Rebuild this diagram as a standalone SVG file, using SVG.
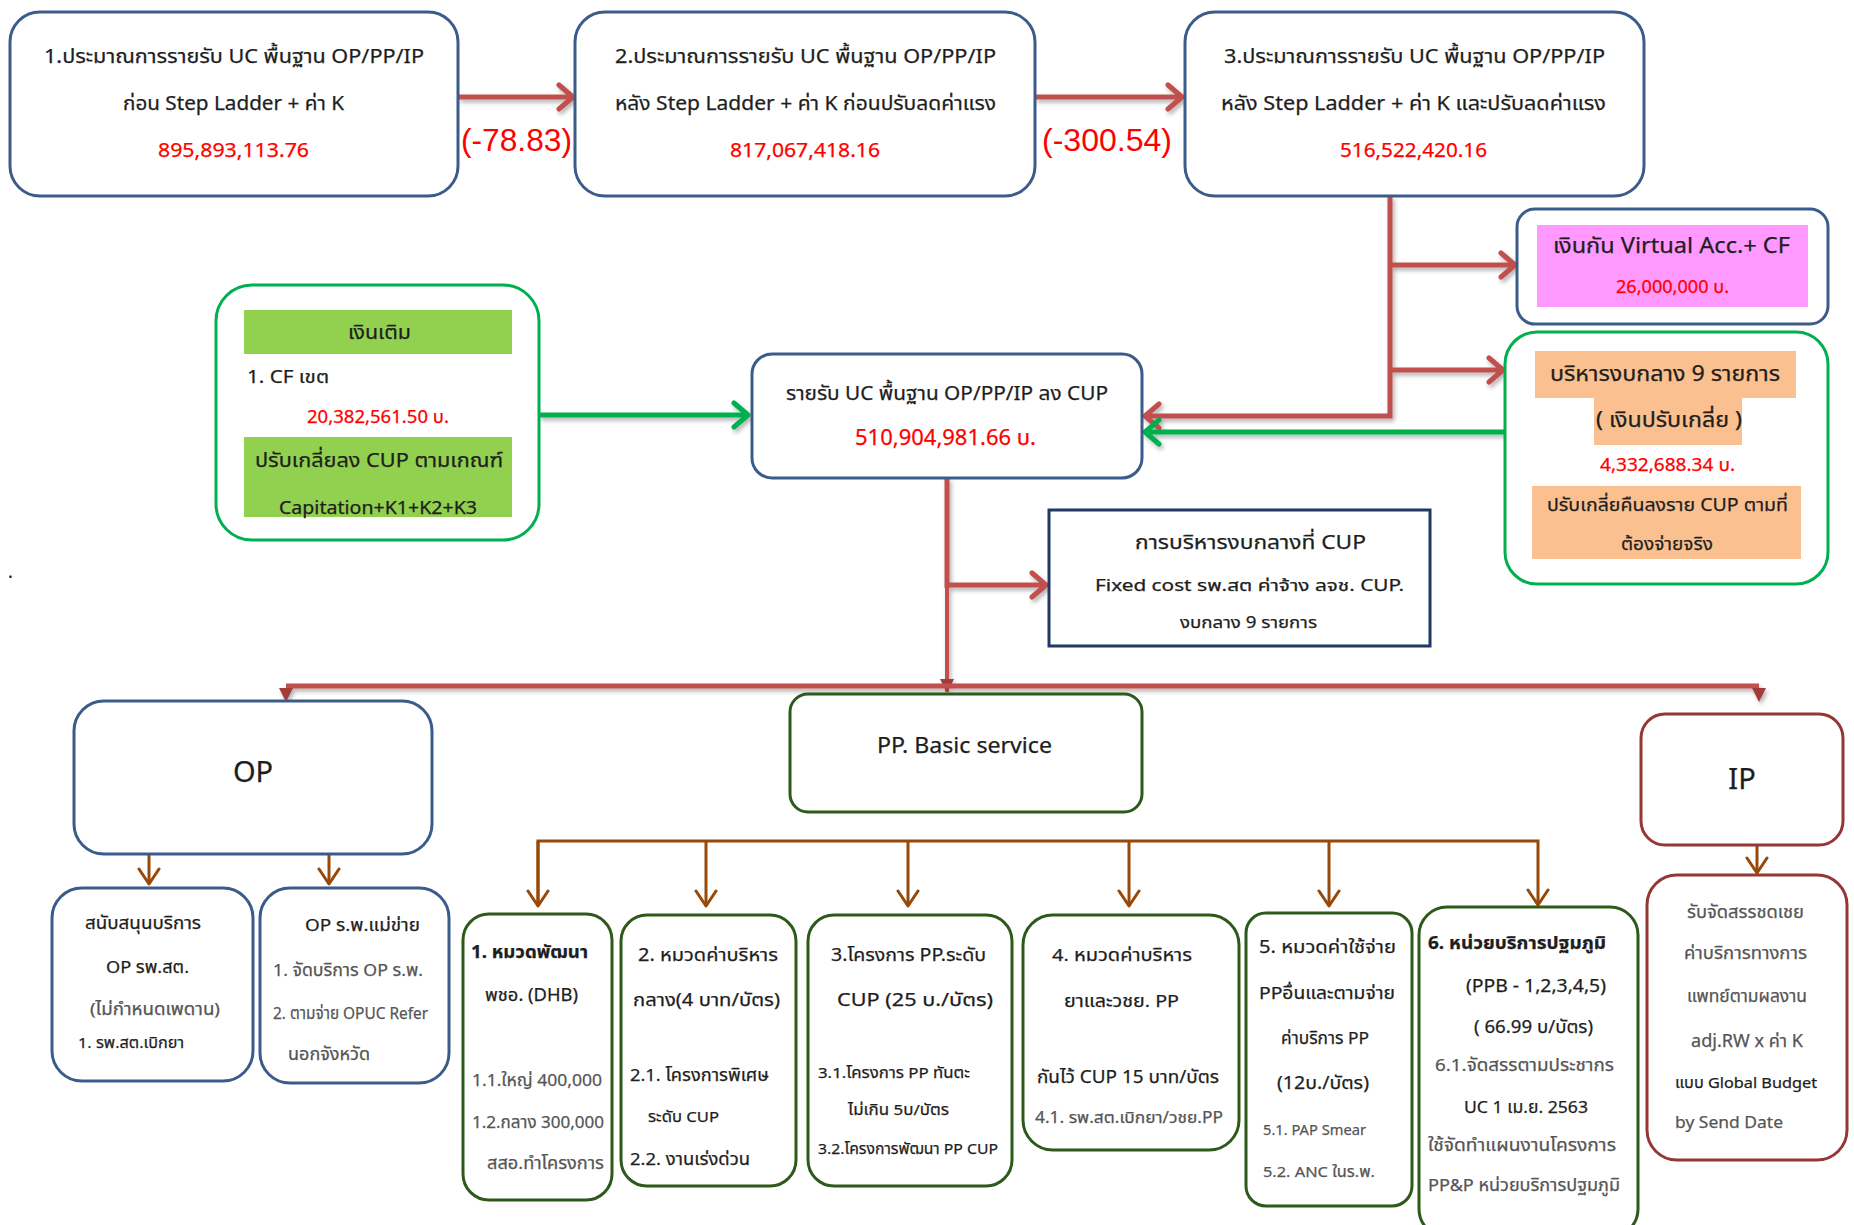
<svg xmlns="http://www.w3.org/2000/svg" width="1854" height="1225" viewBox="0 0 1854 1225">
<defs>
<style>
.t{font-family:"Noto Sans","Noto Sans Thai","DejaVu Sans",sans-serif;fill:#1E1E1E;stroke:#1E1E1E;stroke-width:0.25}
.a{font-family:"Liberation Sans",Arial,sans-serif;fill:#FF0000}
.r{fill:#FF0000;stroke:#FF0000}
.g{fill:#555555;stroke:#555555}
.b{font-weight:bold}
.navy{fill:#fff;stroke:#3B5C8A;stroke-width:3}
.grn{fill:#fff;stroke:#00B050;stroke-width:3}
.dg{fill:#fff;stroke:#2D5A1B;stroke-width:3}
.dr{fill:#fff;stroke:#953735;stroke-width:3}
.redl{fill:none;stroke:#C0504D;stroke-width:5}
.grnl{fill:none;stroke:#00B050;stroke-width:5}
.brl{fill:none;stroke:#984807;stroke-width:3}
</style>
<filter id="sh" x="-5%" y="-5%" width="110%" height="110%">
<feDropShadow dx="2" dy="3" stdDeviation="2" flood-color="#000" flood-opacity="0.3"/>
</filter>
<marker id="mr" viewBox="0 0 20 30" markerWidth="20" markerHeight="30" refX="17" refY="15" orient="auto" markerUnits="userSpaceOnUse">
<path d="M3,3 L17,15 L3,27" fill="none" stroke="#C0504D" stroke-width="5" stroke-linecap="round" stroke-linejoin="round"/>
</marker>
<marker id="mg" viewBox="0 0 20 30" markerWidth="20" markerHeight="30" refX="17" refY="15" orient="auto" markerUnits="userSpaceOnUse">
<path d="M3,3 L17,15 L3,27" fill="none" stroke="#00B050" stroke-width="5" stroke-linecap="round" stroke-linejoin="round"/>
</marker>
<marker id="mb" viewBox="0 0 20 24" markerWidth="20" markerHeight="24" refX="18" refY="12" orient="auto" markerUnits="userSpaceOnUse">
<path d="M3,2 L18,12 L3,22" fill="none" stroke="#984807" stroke-width="3" stroke-linecap="round" stroke-linejoin="round"/>
</marker>
<marker id="mt" viewBox="0 0 14 14" markerWidth="14" markerHeight="14" refX="13" refY="7" orient="auto" markerUnits="userSpaceOnUse">
<path d="M0,0 L14,7 L0,14 Z" fill="#A33A38"/>
</marker>
<radialGradient id="glow" cx="0.5" cy="1" r="0.6">
<stop offset="0" stop-color="#FFF59A" stop-opacity="0.8"/>
<stop offset="1" stop-color="#FFF59A" stop-opacity="0"/>
</radialGradient>
</defs>
<rect width="1854" height="1225" fill="#fff"/>
<ellipse cx="1510" cy="1225" rx="140" ry="18" fill="url(#glow)"/>

<g id="connectors">
<g filter="url(#sh)">
<path class="redl" d="M458,97 H573" marker-end="url(#mr)"/>
<path class="redl" d="M1035,97 H1182" marker-end="url(#mr)"/>
<path class="redl" d="M1390,196 V416 H1145" marker-end="url(#mr)"/>
<path class="redl" d="M1390,265 H1515" marker-end="url(#mr)"/>
<path class="redl" d="M1390,370 H1503" marker-end="url(#mr)"/>
<path class="grnl" d="M1505,432 H1145" marker-end="url(#mg)"/>
<path class="grnl" d="M539,415 H748" marker-end="url(#mg)"/>
<path class="redl" d="M947,478 V588" />
<path class="redl" d="M947,585 H1046" marker-end="url(#mr)"/>
<path fill="none" stroke="#C0504D" stroke-width="4" d="M947,585 V692" marker-end="url(#mt)"/>
<path class="redl" d="M286,686 H1759"/>
<path d="M279,688 L293,688 L286,702 Z" fill="#A33A38"/>
<path d="M1752,688 L1766,688 L1759,702 Z" fill="#A33A38"/>
</g>
<path class="brl" d="M149,855 V884" marker-end="url(#mb)"/>
<path class="brl" d="M329,855 V884" marker-end="url(#mb)"/>
<path class="brl" d="M538,905 V841 H1538 V905" marker-end="url(#mb)"/>
<path class="brl" d="M538,841 V906" marker-end="url(#mb)"/>
<path class="brl" d="M706,841 V906" marker-end="url(#mb)"/>
<path class="brl" d="M908,841 V906" marker-end="url(#mb)"/>
<path class="brl" d="M1129,841 V906" marker-end="url(#mb)"/>
<path class="brl" d="M1329,841 V906" marker-end="url(#mb)"/>
<path class="brl" d="M1757,846 V873" marker-end="url(#mb)"/>
</g>

<g id="box1">
<rect class="navy" x="10" y="12" width="448" height="184" rx="30"/>
<text class="t" x="44" y="63" font-size="20" textLength="380" lengthAdjust="spacingAndGlyphs">1.ประมาณการรายรับ  UC พื้นฐาน OP/PP/IP</text>
<text class="t" x="123" y="110" font-size="20" textLength="221" lengthAdjust="spacingAndGlyphs">ก่อน Step Ladder + ค่า K</text>
<text class="t r" x="158" y="157" font-size="20" textLength="151" lengthAdjust="spacingAndGlyphs">895,893,113.76</text>
</g>
<text class="a" x="461" y="151" font-size="31" textLength="111" lengthAdjust="spacingAndGlyphs">(-78.83)</text>

<g id="box2">
<rect class="navy" x="575" y="12" width="460" height="184" rx="30"/>
<text class="t" x="615" y="63" font-size="20" textLength="381" lengthAdjust="spacingAndGlyphs">2.ประมาณการรายรับ  UC พื้นฐาน OP/PP/IP</text>
<text class="t" x="615" y="110" font-size="20" textLength="381" lengthAdjust="spacingAndGlyphs">หลัง Step Ladder + ค่า K ก่อนปรับลดค่าแรง</text>
<text class="t r" x="730" y="157" font-size="20" textLength="150" lengthAdjust="spacingAndGlyphs">817,067,418.16</text>
</g>
<text class="a" x="1042" y="151" font-size="32" textLength="130" lengthAdjust="spacingAndGlyphs">(-300.54)</text>

<g id="box3">
<rect class="navy" x="1185" y="12" width="459" height="184" rx="30"/>
<text class="t" x="1224" y="63" font-size="20" textLength="381" lengthAdjust="spacingAndGlyphs">3.ประมาณการรายรับ  UC พื้นฐาน OP/PP/IP</text>
<text class="t" x="1221" y="110" font-size="20" textLength="385" lengthAdjust="spacingAndGlyphs">หลัง  Step Ladder + ค่า K  และปรับลดค่าแรง</text>
<text class="t r" x="1340" y="157" font-size="20" textLength="147" lengthAdjust="spacingAndGlyphs">516,522,420.16</text>
</g>

<g id="virtual">
<rect class="navy" x="1517" y="209" width="311" height="115" rx="18"/>
<rect x="1537" y="225" width="271" height="82" fill="#FF99FF"/>
<text class="t" x="1553" y="253" font-size="22" textLength="237" lengthAdjust="spacingAndGlyphs">เงินกัน Virtual Acc.+ CF</text>
<text class="t r" x="1616" y="293" font-size="18" textLength="113" lengthAdjust="spacingAndGlyphs">26,000,000 บ.</text>
</g>

<g id="central9">
<rect class="grn" x="1505" y="332" width="323" height="252" rx="32"/>
<rect x="1535" y="351" width="261" height="47" fill="#FAC090"/>
<rect x="1594" y="398" width="148" height="47" fill="#FAC090"/>
<text class="t" x="1550" y="381" font-size="21" textLength="230" lengthAdjust="spacingAndGlyphs">บริหารงบกลาง   9 รายการ</text>
<text class="t" x="1596" y="427" font-size="21" textLength="146" lengthAdjust="spacingAndGlyphs">( เงินปรับเกลี่ย )</text>
<text class="t r" x="1600" y="471" font-size="18" textLength="135" lengthAdjust="spacingAndGlyphs">4,332,688.34  บ.</text>
<rect x="1532" y="486" width="269" height="73" fill="#FAC090"/>
<text class="t" x="1547" y="511" font-size="18" textLength="241" lengthAdjust="spacingAndGlyphs">ปรับเกลี่ยคืนลงราย CUP ตามที่</text>
<text class="t" x="1621" y="550" font-size="18" textLength="92" lengthAdjust="spacingAndGlyphs">ต้องจ่ายจริง</text>
</g>

<g id="topup">
<rect class="grn" x="216" y="285" width="323" height="255" rx="36"/>
<rect x="244" y="310" width="268" height="44" fill="#92D050"/>
<text class="t" x="348" y="339" font-size="20" textLength="63" lengthAdjust="spacingAndGlyphs">เงินเติม</text>
<text class="t" x="247" y="383" font-size="18" textLength="82" lengthAdjust="spacingAndGlyphs">1. CF เขต</text>
<text class="t r" x="307" y="423" font-size="18" textLength="142" lengthAdjust="spacingAndGlyphs">20,382,561.50 บ.</text>
<rect x="244" y="437" width="268" height="80" fill="#92D050"/>
<text class="t" x="255" y="467" font-size="20" textLength="248" lengthAdjust="spacingAndGlyphs">ปรับเกลี่ยลง  CUP ตามเกณฑ์</text>
<text class="t" x="279" y="514" font-size="18" textLength="198" lengthAdjust="spacingAndGlyphs">Capitation+K1+K2+K3</text>
</g>

<g id="income">
<rect class="navy" x="752" y="354" width="390" height="124" rx="20"/>
<text class="t" x="786" y="400" font-size="20" textLength="322" lengthAdjust="spacingAndGlyphs">รายรับ  UC พื้นฐาน OP/PP/IP ลง CUP</text>
<text class="t r" x="855" y="445" font-size="22" textLength="181" lengthAdjust="spacingAndGlyphs">510,904,981.66  บ.</text>
</g>

<g id="cupadmin">
<rect x="1049" y="510" width="381" height="136" fill="#fff" stroke="#1F3864" stroke-width="3"/>
<text class="t" x="1135" y="549" font-size="20" textLength="231" lengthAdjust="spacingAndGlyphs">การบริหารงบกลางที่  CUP</text>
<text class="t" x="1095" y="591" font-size="16" textLength="309" lengthAdjust="spacingAndGlyphs">Fixed cost รพ.สต      ค่าจ้าง  ลจช. CUP.</text>
<text class="t" x="1180" y="628" font-size="16" textLength="137" lengthAdjust="spacingAndGlyphs">งบกลาง 9 รายการ</text>
</g>

<g id="op">
<rect class="navy" x="74" y="701" width="358" height="153" rx="30"/>
<text class="t" x="253" y="782" font-size="29" text-anchor="middle">OP</text>
</g>
<g id="pp">
<rect class="dg" x="790" y="694" width="352" height="118" rx="18"/>
<text class="t" x="877" y="753" font-size="22" textLength="175" lengthAdjust="spacingAndGlyphs">PP. Basic service</text>
</g>
<g id="ip">
<rect class="dr" x="1641" y="714" width="202" height="131" rx="24"/>
<text class="t" x="1742" y="789" font-size="29" text-anchor="middle">IP</text>
</g>

<g id="op1">
<rect class="navy" x="52" y="888" width="201" height="193" rx="30"/>
<text class="t" x="85" y="929" font-size="17" textLength="116" lengthAdjust="spacingAndGlyphs">สนับสนุนบริการ</text>
<text class="t" x="106" y="973" font-size="17" textLength="83" lengthAdjust="spacingAndGlyphs">OP รพ.สต.</text>
<text class="t g" x="90" y="1015" font-size="17" textLength="130" lengthAdjust="spacingAndGlyphs">(ไม่กำหนดเพดาน)</text>
<text class="t" x="78" y="1048" font-size="15" textLength="106" lengthAdjust="spacingAndGlyphs">1. รพ.สต.เบิกยา</text>
</g>
<g id="op2">
<rect class="navy" x="260" y="888" width="189" height="195" rx="30"/>
<text class="t" x="305" y="931" font-size="17" textLength="115" lengthAdjust="spacingAndGlyphs">OP ร.พ.แม่ข่าย</text>
<text class="t g" x="273" y="976" font-size="17" textLength="150" lengthAdjust="spacingAndGlyphs">1. จัดบริการ OP ร.พ.</text>
<text class="t g" x="273" y="1019" font-size="17" textLength="155" lengthAdjust="spacingAndGlyphs">2. ตามจ่าย OPUC Refer</text>
<text class="t g" x="288" y="1060" font-size="17" textLength="82" lengthAdjust="spacingAndGlyphs">นอกจังหวัด</text>
</g>

<g id="pp1">
<rect class="dg" x="463" y="914" width="149" height="286" rx="26"/>
<text class="t b" x="471" y="958" font-size="18" textLength="117" lengthAdjust="spacingAndGlyphs">1. หมวดพัฒนา</text>
<text class="t" x="485" y="1001" font-size="18" textLength="93" lengthAdjust="spacingAndGlyphs">พชอ. (DHB)</text>
<text class="t g" x="472" y="1086" font-size="17" textLength="130" lengthAdjust="spacingAndGlyphs">1.1.ใหญ่ 400,000</text>
<text class="t g" x="472" y="1128" font-size="17" textLength="132" lengthAdjust="spacingAndGlyphs">1.2.กลาง 300,000</text>
<text class="t g" x="487" y="1169" font-size="17" textLength="117" lengthAdjust="spacingAndGlyphs">สสอ.ทำโครงการ</text>
</g>
<g id="pp2">
<rect class="dg" x="621" y="915" width="175" height="271" rx="26"/>
<text class="t" x="638" y="961" font-size="18" textLength="140" lengthAdjust="spacingAndGlyphs">2. หมวดค่าบริหาร</text>
<text class="t" x="633" y="1006" font-size="18" textLength="147" lengthAdjust="spacingAndGlyphs">กลาง(4 บาท/บัตร)</text>
<text class="t" x="630" y="1081" font-size="17" textLength="139" lengthAdjust="spacingAndGlyphs">2.1. โครงการพิเศษ</text>
<text class="t" x="648" y="1122" font-size="15" textLength="71" lengthAdjust="spacingAndGlyphs">ระดับ CUP</text>
<text class="t" x="630" y="1165" font-size="17" textLength="120" lengthAdjust="spacingAndGlyphs">2.2. งานเร่งด่วน</text>
</g>
<g id="pp3">
<rect class="dg" x="808" y="915" width="204" height="271" rx="26"/>
<text class="t" x="831" y="961" font-size="18" textLength="155" lengthAdjust="spacingAndGlyphs">3.โครงการ PP.ระดับ</text>
<text class="t" x="837" y="1006" font-size="18" textLength="156" lengthAdjust="spacingAndGlyphs">CUP (25 บ./บัตร)</text>
<text class="t" x="818" y="1078" font-size="15" textLength="152" lengthAdjust="spacingAndGlyphs">3.1.โครงการ PP ทันตะ</text>
<text class="t" x="848" y="1115" font-size="15" textLength="101" lengthAdjust="spacingAndGlyphs">ไม่เกิน 5บ/บัตร</text>
<text class="t" x="818" y="1154" font-size="15" textLength="180" lengthAdjust="spacingAndGlyphs">3.2.โครงการพัฒนา PP CUP</text>
</g>
<g id="pp4">
<rect class="dg" x="1023" y="915" width="216" height="235" rx="30"/>
<text class="t" x="1052" y="961" font-size="17" textLength="140" lengthAdjust="spacingAndGlyphs">4. หมวดค่าบริหาร</text>
<text class="t" x="1064" y="1007" font-size="17" textLength="115" lengthAdjust="spacingAndGlyphs">ยาและวชย. PP</text>
<text class="t" x="1037" y="1083" font-size="18" textLength="182" lengthAdjust="spacingAndGlyphs">กันไว้ CUP 15 บาท/บัตร</text>
<text class="t g" x="1035" y="1123" font-size="16" textLength="188" lengthAdjust="spacingAndGlyphs">4.1. รพ.สต.เบิกยา/วชย.PP</text>
</g>
<g id="pp5">
<rect class="dg" x="1246" y="913" width="166" height="293" rx="20"/>
<text class="t" x="1259" y="953" font-size="18" textLength="137" lengthAdjust="spacingAndGlyphs">5. หมวดค่าใช้จ่าย</text>
<text class="t" x="1259" y="999" font-size="17" textLength="136" lengthAdjust="spacingAndGlyphs">PPอื่นและตามจ่าย</text>
<text class="t" x="1281" y="1044" font-size="17" textLength="88" lengthAdjust="spacingAndGlyphs">ค่าบริการ PP</text>
<text class="t" x="1277" y="1089" font-size="18" textLength="92" lengthAdjust="spacingAndGlyphs">(12บ./บัตร)</text>
<text class="t g" x="1263" y="1135" font-size="15" textLength="103" lengthAdjust="spacingAndGlyphs">5.1. PAP Smear</text>
<text class="t g" x="1263" y="1177" font-size="15" textLength="112" lengthAdjust="spacingAndGlyphs">5.2. ANC ในร.พ.</text>
</g>
<g id="pp6">
<rect class="dg" x="1419" y="907" width="219" height="330" rx="28"/>
<text class="t b" x="1428" y="949" font-size="18" textLength="178" lengthAdjust="spacingAndGlyphs">6. หน่วยบริการปฐมภูมิ</text>
<text class="t" x="1466" y="992" font-size="18" textLength="140" lengthAdjust="spacingAndGlyphs">(PPB - 1,2,3,4,5)</text>
<text class="t" x="1474" y="1033" font-size="18" textLength="119" lengthAdjust="spacingAndGlyphs">( 66.99 บ/บัตร)</text>
<text class="t g" x="1435" y="1071" font-size="17" textLength="179" lengthAdjust="spacingAndGlyphs">6.1.จัดสรรตามประชากร</text>
<text class="t" x="1464" y="1113" font-size="17" textLength="124" lengthAdjust="spacingAndGlyphs">UC 1 เม.ย. 2563</text>
<text class="t g" x="1428" y="1151" font-size="17" textLength="188" lengthAdjust="spacingAndGlyphs">ใช้จัดทำแผนงานโครงการ</text>
<text class="t g" x="1428" y="1191" font-size="17" textLength="192" lengthAdjust="spacingAndGlyphs">PP&amp;P หน่วยบริการปฐมภูมิ</text>
</g>

<g id="ip1">
<rect class="dr" x="1647" y="875" width="200" height="285" rx="30"/>
<text class="t g" x="1687" y="918" font-size="17" textLength="117" lengthAdjust="spacingAndGlyphs">รับจัดสรรชดเชย</text>
<text class="t g" x="1684" y="959" font-size="17" textLength="123" lengthAdjust="spacingAndGlyphs">ค่าบริการทางการ</text>
<text class="t g" x="1687" y="1002" font-size="17" textLength="120" lengthAdjust="spacingAndGlyphs">แพทย์ตามผลงาน</text>
<text class="t g" x="1691" y="1047" font-size="18" textLength="112" lengthAdjust="spacingAndGlyphs">adj.RW x ค่า  K</text>
<text class="t" x="1675" y="1088" font-size="15" textLength="142" lengthAdjust="spacingAndGlyphs">แบบ Global Budget</text>
<text class="t g" x="1675" y="1128" font-size="17" textLength="108" lengthAdjust="spacingAndGlyphs">by Send Date</text>
</g>

<text class="t" x="8" y="578" font-size="18">.</text>
</svg>
